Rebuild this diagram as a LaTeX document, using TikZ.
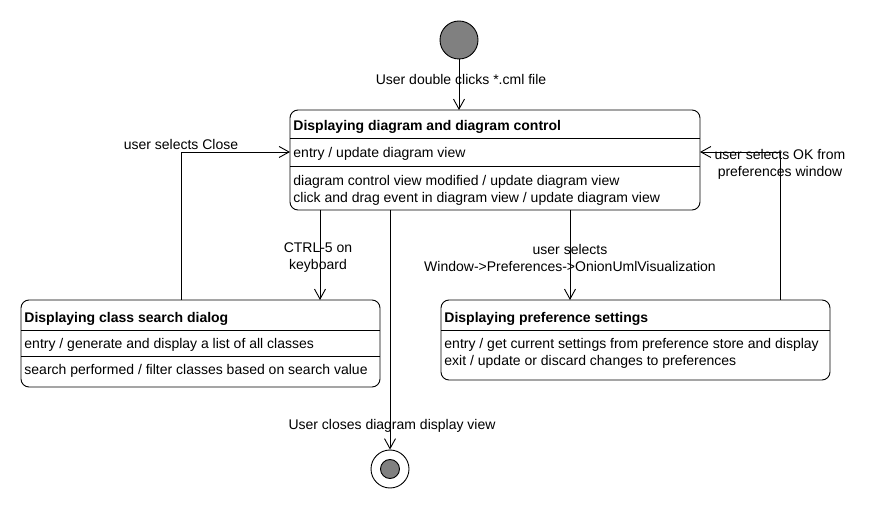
\documentclass[tikz,border=0pt]{standalone}
\usepackage{fontspec}
\setmainfont{Liberation Sans}
\usepackage{tikz}
\usetikzlibrary{calc, arrows.meta}

\definecolor{statogrigio}{RGB}{128,128,128}

\begin{document}
\begin{tikzpicture}[x=1pt, y=-1pt, line width=0.9pt,
    every node/.style={font=\fontsize{14pt}{17pt}\selectfont},
    stato/.style={draw, rounded corners=8pt, inner sep=0pt, outer sep=0pt},
    riga/.style={anchor=west, inner sep=0pt, yshift=-2pt},
    etichetta/.style={align=center, inner sep=0pt, yshift=-2pt},
    trans/.style={-{Straight Barb[length=10pt,width=11pt]}}]
    \useasboundingbox (0,0) rectangle (892,510);

    % pseudo stato iniziale
    \node[circle, draw, fill=statogrigio, minimum size=38pt, inner sep=0pt] (init) at (459,40) {};

    % stato principale
    \node[stato, minimum width=410pt, minimum height=100pt] (main) at (495,160) {};
    \draw ($(main.north west)+(0,28)$) -- ($(main.north east)+(0,28)$);
    \draw ($(main.north west)+(0,56)$) -- ($(main.north east)+(0,56)$);
    \node[riga] (mtit) at (293,125) {\textbf{Displaying diagram and diagram control}};
    \node[riga] (ment) at (293,152) {entry / update diagram view};
    \node[riga] (mev1) at (293,180) {diagram control view modified / update diagram view};
    \node[riga] (mev2) at (293,197) {click and drag event in diagram view / update diagram view};

    % dialogo di ricerca
    \node[stato, minimum width=359pt, minimum height=87pt] (cls) at (200.5,343.5) {};
    \draw ($(cls.north west)+(0,30)$) -- ($(cls.north east)+(0,30)$);
    \draw ($(cls.north west)+(0,56)$) -- ($(cls.north east)+(0,56)$);
    \node[riga] (ctit) at (24,317) {\textbf{Displaying class search dialog}};
    \node[riga] (cent) at (24,343) {entry / generate and display a list of all classes};
    \node[riga] (cev) at (24,369) {search performed / filter classes based on search value};

    % preferenze
    \node[stato, minimum width=389pt, minimum height=80pt] (pref) at (635.5,340) {};
    \draw ($(pref.north west)+(0,30)$) -- ($(pref.north east)+(0,30)$);
    \node[riga] (ptit) at (444,317) {\textbf{Displaying preference settings}};
    \node[riga] (pent) at (444,343) {entry / get current settings from preference store and display};
    \node[riga] (pext) at (444,360) {exit / update or discard changes to preferences};

    % stato finale
    \node[circle, draw, fill=white, minimum size=38pt, inner sep=0pt] (fin) at (390,469) {};
    \fill[statogrigio] (fin) circle (9.5pt);
    \draw (fin) circle (9.5pt);

    % transizioni
    \draw[trans] (init.south) -- (init.south |- main.north);
    \node[etichetta] (lstart) at (461,78) {User double clicks *.cml file};

    \draw[trans] ($(main.south west)+(30,0)$) coordinate (a) -- (a |- cls.north);
    \node[etichetta] (lctrl) at (318,256) {CTRL-5 on\\keyboard};

    \draw[trans] ($(main.south west)+(280,0)$) coordinate (b) -- (b |- pref.north);
    \node[etichetta] (lwin) at (570,256) {user selects\\Window->Preferences->OnionUmlVisualization};

    \draw[trans] ($(main.south west)+(100,0)$) -- (fin.north);
    \node[etichetta] (lclose) at (392,424) {User closes diagram display view};

    \coordinate (mw) at ($(main.north west)+(0,42)$);
    \coordinate (me) at ($(main.north east)+(0,42)$);
    \draw[trans] ($(cls.north west)+(160,0)$) coordinate (c) -- (c |- mw) -- (mw);
    \node[etichetta] (lcls) at (181,143) {user selects Close};

    \draw[trans] ($(pref.north west)+(339,0)$) coordinate (d) -- (d |- me) -- (me);
    \node[etichetta] (lok) at (780,162) {user selects OK from\\preferences window};
\end{tikzpicture}
\end{document}
